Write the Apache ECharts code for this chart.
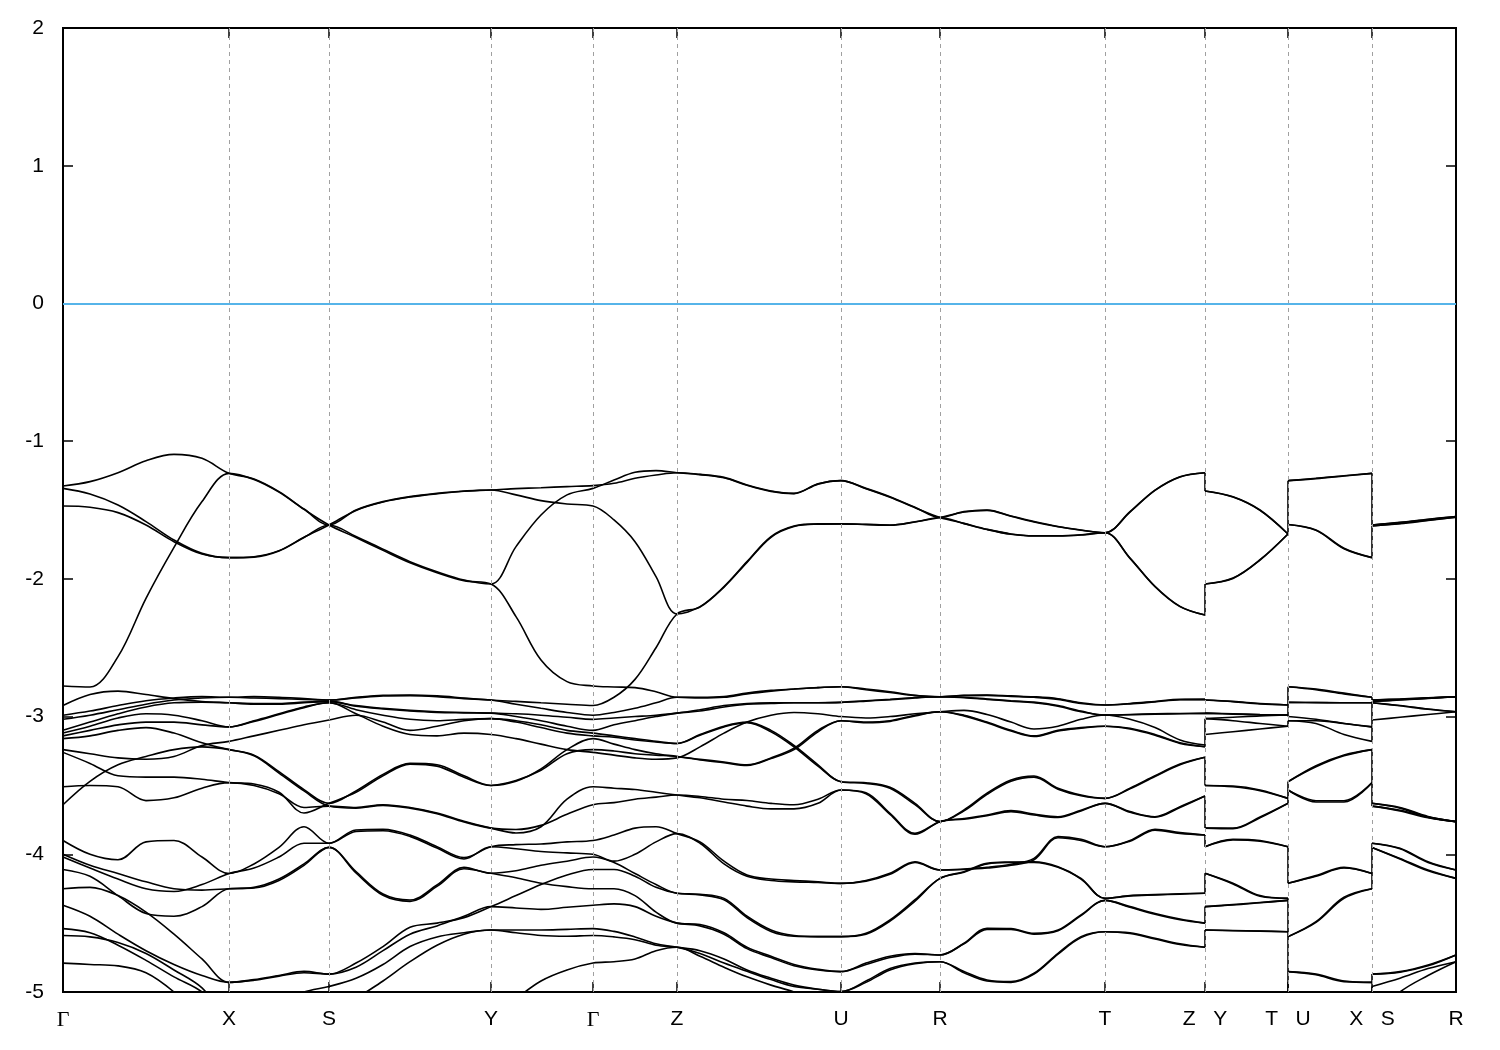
<!DOCTYPE html>
<html><head><meta charset="utf-8">
<script src="https://cdn.jsdelivr.net/npm/echarts@6/dist/echarts.min.js"></script>
<style>html,body{margin:0;padding:0;background:#fff}#c{width:1500px;height:1050px}</style>
</head><body><div id="c"></div>
<script>
// high-symmetry k-path positions and labels
const kTicks = [0, 166, 266, 428, 530, 614, 778, 877, 1042, 1142, 1225, 1309, 1393];
const kLabels = ['Γ', 'X', 'S', 'Y', 'Γ', 'Z', 'U', 'R', 'T', 'Z   Y', 'T   U', 'X   S', 'R'];
const pathBreaks = [1142, 1225, 1309];
const fermiLevel = 0;

// Γ -> X
const segGX_k = [0, 27, 55, 83, 111, 139, 166];
const segGX_E = [
[-1.326,-1.294,-1.229,-1.142,-1.096,-1.125,-1.234],
[-1.343,-1.384,-1.464,-1.584,-1.718,-1.815,-1.846],
[-1.471,-1.480,-1.519,-1.609,-1.730,-1.820,-1.846],
[-2.778,-2.785,-2.565,-2.141,-1.771,-1.439,-1.234],
[-2.92,-2.84,-2.815,-2.84,-2.87,-2.89,-2.90],
[-2.99,-2.96,-2.92,-2.885,-2.865,-2.855,-2.86],
[-3.02,-2.99,-2.95,-2.91,-2.88,-2.865,-2.86],
[-3.10,-3.04,-2.98,-2.93,-2.90,-2.895,-2.90],
[-3.12,-3.07,-3.01,-2.98,-2.99,-3.03,-3.075],
[-3.14,-3.10,-3.06,-3.04,-3.04,-3.06,-3.075],
[-3.16,-3.14,-3.10,-3.08,-3.12,-3.19,-3.24],
[-3.24,-3.27,-3.30,-3.31,-3.29,-3.21,-3.18],
[-3.26,-3.34,-3.43,-3.44,-3.44,-3.455,-3.48],
[-3.51,-3.50,-3.51,-3.61,-3.59,-3.52,-3.48],
[-3.64,-3.47,-3.35,-3.29,-3.24,-3.22,-3.24],
[-3.90,-4.00,-4.04,-3.91,-3.90,-4.02,-4.14],
[-4.00,-4.08,-4.14,-4.20,-4.25,-4.26,-4.25],
[-4.02,-4.10,-4.18,-4.25,-4.27,-4.22,-4.14],
[-4.11,-4.16,-4.30,-4.43,-4.45,-4.38,-4.25],
[-4.25,-4.24,-4.30,-4.42,-4.58,-4.76,-4.93],
[-4.37,-4.45,-4.58,-4.70,-4.80,-4.88,-4.93],
[-4.54,-4.57,-4.66,-4.77,-4.89,-5.00,-5.20],
[-4.59,-4.60,-4.64,-4.72,-4.84,-4.97,-5.20],
[-4.79,-4.80,-4.81,-4.86,-5.00,-5.20,-5.40],
[-5.20,-5.22,-5.25,-5.30,-5.35,-5.38,-5.40],
[-5.40,-5.42,-5.44,-5.46,-5.48,-5.50,-5.50]
];
// X -> S
const segXS_k = [166, 191, 216, 241, 266];
const segXS_E = [
[-1.234,-1.275,-1.367,-1.493,-1.609],
[-1.234,-1.278,-1.370,-1.496,-1.609],
[-1.846,-1.839,-1.795,-1.698,-1.609],
[-1.846,-1.842,-1.798,-1.700,-1.609],
[-2.86,-2.855,-2.86,-2.87,-2.88],
[-2.86,-2.865,-2.87,-2.875,-2.88],
[-2.90,-2.91,-2.91,-2.90,-2.89],
[-2.90,-2.905,-2.905,-2.895,-2.89],
[-3.075,-3.03,-2.98,-2.93,-2.90],
[-3.075,-3.035,-2.985,-2.935,-2.90],
[-3.18,-3.14,-3.10,-3.06,-3.025],
[-3.24,-3.28,-3.40,-3.53,-3.63],
[-3.24,-3.285,-3.41,-3.54,-3.65],
[-3.48,-3.49,-3.55,-3.70,-3.63],
[-3.48,-3.50,-3.56,-3.66,-3.65],
[-4.14,-4.07,-3.95,-3.80,-3.92],
[-4.14,-4.10,-4.02,-3.92,-3.92],
[-4.25,-4.24,-4.18,-4.07,-3.95],
[-4.25,-4.245,-4.19,-4.08,-3.95],
[-4.93,-4.91,-4.88,-4.85,-4.87],
[-4.93,-4.915,-4.885,-4.86,-4.87],
[-5.20,-5.15,-5.08,-5.00,-4.96],
[-5.20,-5.22,-5.22,-5.21,-5.20],
[-5.40,-5.38,-5.35,-5.32,-5.30],
[-5.40,-5.40,-5.40,-5.40,-5.40],
[-5.50,-5.50,-5.50,-5.50,-5.50]
];
// S -> Y
const segSY_k = [266, 293, 320, 347, 374, 401, 428];
const segSY_E = [
[-1.609,-1.500,-1.439,-1.403,-1.379,-1.362,-1.355],
[-1.609,-1.503,-1.442,-1.406,-1.382,-1.364,-1.355],
[-1.609,-1.693,-1.785,-1.875,-1.948,-2.008,-2.037],
[-1.609,-1.700,-1.793,-1.883,-1.955,-2.013,-2.037],
[-2.88,-2.86,-2.845,-2.843,-2.85,-2.865,-2.88],
[-2.88,-2.865,-2.85,-2.848,-2.855,-2.87,-2.88],
[-2.89,-2.92,-2.94,-2.955,-2.965,-2.97,-2.975],
[-2.89,-2.925,-2.945,-2.96,-2.97,-2.973,-2.975],
[-2.90,-2.95,-2.99,-3.02,-3.03,-3.02,-3.015],
[-2.90,-2.98,-3.07,-3.13,-3.14,-3.12,-3.13],
[-3.025,-2.99,-3.04,-3.10,-3.07,-3.03,-3.015],
[-3.63,-3.54,-3.42,-3.34,-3.35,-3.43,-3.50],
[-3.63,-3.55,-3.43,-3.345,-3.36,-3.44,-3.50],
[-3.65,-3.66,-3.64,-3.66,-3.70,-3.76,-3.81],
[-3.65,-3.665,-3.645,-3.665,-3.705,-3.765,-3.81],
[-3.92,-3.824,-3.819,-3.86,-3.945,-4.024,-3.945],
[-3.92,-3.834,-3.829,-3.87,-3.955,-4.034,-3.945],
[-3.95,-4.126,-4.288,-4.332,-4.223,-4.095,-4.138],
[-3.95,-4.136,-4.298,-4.342,-4.233,-4.105,-4.138],
[-4.87,-4.79,-4.67,-4.53,-4.50,-4.46,-4.38],
[-4.87,-4.82,-4.70,-4.58,-4.52,-4.45,-4.38],
[-4.96,-4.90,-4.80,-4.67,-4.60,-4.57,-4.55],
[-5.20,-5.05,-4.92,-4.78,-4.66,-4.58,-4.55],
[-5.30,-5.28,-5.26,-5.24,-5.22,-5.21,-5.20],
[-5.40,-5.38,-5.36,-5.34,-5.32,-5.31,-5.30],
[-5.50,-5.48,-5.46,-5.44,-5.42,-5.41,-5.40]
];
// Y -> Γ
const segYG_k = [428, 453, 478, 504, 530];
const segYG_E = [
[-1.355,-1.345,-1.338,-1.330,-1.323],
[-1.355,-1.390,-1.432,-1.456,-1.471],
[-2.037,-1.766,-1.536,-1.390,-1.343],
[-2.037,-2.274,-2.589,-2.746,-2.778],
[-2.88,-2.89,-2.90,-2.91,-2.92],
[-2.88,-2.91,-2.94,-2.97,-2.99],
[-2.975,-2.98,-2.99,-3.005,-3.02],
[-2.975,-3.00,-3.03,-3.07,-3.10],
[-3.015,-3.03,-3.06,-3.10,-3.12],
[-3.015,-3.04,-3.08,-3.12,-3.14],
[-3.13,-3.16,-3.20,-3.24,-3.26],
[-3.50,-3.465,-3.39,-3.27,-3.24],
[-3.50,-3.47,-3.38,-3.24,-3.16],
[-3.81,-3.845,-3.80,-3.60,-3.51],
[-3.81,-3.82,-3.79,-3.71,-3.64],
[-3.945,-3.93,-3.925,-3.91,-3.90],
[-3.945,-3.96,-3.98,-3.99,-4.00],
[-4.138,-4.12,-4.08,-4.05,-4.02],
[-4.138,-4.17,-4.21,-4.235,-4.25],
[-4.38,-4.30,-4.22,-4.15,-4.11],
[-4.38,-4.39,-4.40,-4.385,-4.37],
[-4.55,-4.55,-4.55,-4.545,-4.54],
[-4.55,-4.57,-4.59,-4.595,-4.59],
[-5.20,-5.05,-4.92,-4.84,-4.79],
[-5.30,-5.27,-5.24,-5.22,-5.20],
[-5.40,-5.40,-5.40,-5.40,-5.40]
];
// Γ -> Z
const segGZ_k = [530, 551, 572, 593, 614];
const segGZ_E = [
[-1.343,-1.282,-1.226,-1.214,-1.229],
[-1.323,-1.306,-1.270,-1.246,-1.229],
[-1.471,-1.572,-1.730,-1.984,-2.255],
[-2.92,-2.86,-2.73,-2.50,-2.255],
[-2.778,-2.785,-2.79,-2.82,-2.86],
[-2.99,-2.97,-2.94,-2.90,-2.86],
[-3.02,-3.01,-3.00,-2.99,-2.975],
[-3.10,-3.06,-3.03,-3.00,-2.975],
[-3.12,-3.14,-3.16,-3.18,-3.195],
[-3.14,-3.15,-3.17,-3.185,-3.195],
[-3.16,-3.20,-3.24,-3.27,-3.29],
[-3.24,-3.25,-3.27,-3.28,-3.29],
[-3.26,-3.28,-3.30,-3.31,-3.30],
[-3.51,-3.52,-3.53,-3.55,-3.57],
[-3.64,-3.625,-3.60,-3.585,-3.57],
[-3.90,-3.86,-3.81,-3.80,-3.85],
[-4.00,-4.05,-4.00,-3.91,-3.85],
[-4.02,-4.06,-4.14,-4.22,-4.283],
[-4.11,-4.11,-4.16,-4.24,-4.283],
[-4.25,-4.25,-4.30,-4.42,-4.50],
[-4.37,-4.36,-4.38,-4.45,-4.50],
[-4.54,-4.56,-4.60,-4.65,-4.675],
[-4.59,-4.60,-4.62,-4.66,-4.675],
[-4.79,-4.78,-4.76,-4.70,-4.675],
[-5.20,-5.20,-5.20,-5.20,-5.20],
[-5.40,-5.40,-5.40,-5.40,-5.40]
];
// Z -> U
const segZU_k = [614, 637, 661, 684, 708, 731, 755, 778];
const segZU_E = [
[-1.229,-1.241,-1.263,-1.318,-1.362,-1.379,-1.310,-1.287],
[-1.229,-1.243,-1.266,-1.321,-1.365,-1.381,-1.312,-1.287],
[-2.255,-2.202,-2.056,-1.875,-1.693,-1.616,-1.601,-1.601],
[-2.255,-2.205,-2.060,-1.880,-1.698,-1.620,-1.603,-1.601],
[-2.86,-2.86,-2.855,-2.83,-2.81,-2.80,-2.79,-2.783],
[-2.86,-2.865,-2.86,-2.835,-2.815,-2.80,-2.79,-2.783],
[-2.975,-2.95,-2.92,-2.905,-2.90,-2.90,-2.90,-2.897],
[-2.975,-2.96,-2.93,-2.91,-2.905,-2.90,-2.90,-2.897],
[-3.30,-3.22,-3.12,-3.04,-2.99,-2.97,-2.98,-3.00],
[-3.29,-3.31,-3.33,-3.35,-3.30,-3.23,-3.10,-3.03],
[-3.29,-3.315,-3.335,-3.355,-3.305,-3.24,-3.11,-3.03],
[-3.195,-3.13,-3.07,-3.04,-3.10,-3.21,-3.35,-3.473],
[-3.195,-3.135,-3.075,-3.045,-3.11,-3.22,-3.36,-3.473],
[-3.57,-3.59,-3.62,-3.65,-3.67,-3.67,-3.63,-3.533],
[-3.57,-3.58,-3.60,-3.61,-3.63,-3.64,-3.60,-3.533],
[-3.85,-3.91,-4.05,-4.15,-4.18,-4.19,-4.20,-4.211],
[-3.85,-3.92,-4.07,-4.16,-4.19,-4.20,-4.205,-4.211],
[-4.283,-4.29,-4.32,-4.45,-4.55,-4.59,-4.598,-4.598],
[-4.283,-4.295,-4.33,-4.46,-4.56,-4.595,-4.598,-4.598],
[-4.50,-4.51,-4.57,-4.675,-4.74,-4.80,-4.835,-4.852],
[-4.50,-4.52,-4.58,-4.685,-4.75,-4.81,-4.84,-4.852],
[-4.675,-4.72,-4.79,-4.85,-4.91,-4.96,-4.98,-4.997],
[-4.675,-4.70,-4.76,-4.84,-4.90,-4.95,-4.98,-4.997],
[-4.675,-4.74,-4.82,-4.89,-4.95,-5.00,-5.08,-5.20],
[-5.20,-5.22,-5.24,-5.26,-5.28,-5.29,-5.30,-5.30],
[-5.40,-5.40,-5.40,-5.40,-5.40,-5.40,-5.40,-5.40]
];
// U -> R
const segUR_k = [778, 803, 827, 852, 877];
const segUR_E = [
[-1.287,-1.343,-1.404,-1.480,-1.554],
[-1.287,-1.345,-1.407,-1.483,-1.554],
[-1.601,-1.604,-1.609,-1.585,-1.554],
[-1.601,-1.606,-1.611,-1.587,-1.554],
[-2.783,-2.80,-2.82,-2.845,-2.856],
[-2.783,-2.805,-2.825,-2.848,-2.856],
[-2.897,-2.885,-2.875,-2.862,-2.856],
[-2.897,-2.888,-2.878,-2.864,-2.856],
[-3.00,-3.01,-3.00,-2.98,-2.965],
[-3.03,-3.04,-3.03,-2.99,-2.965],
[-3.03,-3.045,-3.035,-2.995,-2.965],
[-3.473,-3.48,-3.514,-3.63,-3.763],
[-3.473,-3.485,-3.52,-3.64,-3.763],
[-3.533,-3.553,-3.703,-3.848,-3.763],
[-3.533,-3.56,-3.71,-3.855,-3.763],
[-4.211,-4.19,-4.138,-4.054,-4.114],
[-4.211,-4.195,-4.145,-4.06,-4.114],
[-4.598,-4.574,-4.477,-4.33,-4.175],
[-4.598,-4.58,-4.485,-4.34,-4.175],
[-4.852,-4.79,-4.74,-4.72,-4.731],
[-4.852,-4.80,-4.75,-4.725,-4.731],
[-4.997,-4.92,-4.83,-4.79,-4.78],
[-4.997,-4.93,-4.84,-4.795,-4.78],
[-5.20,-5.20,-5.20,-5.20,-5.20],
[-5.30,-5.30,-5.30,-5.30,-5.30],
[-5.40,-5.40,-5.40,-5.40,-5.40]
];
// R -> T
const segRT_k = [877, 901, 924, 948, 971, 995, 1018, 1042];
const segRT_E = [
[-1.554,-1.512,-1.500,-1.543,-1.584,-1.620,-1.645,-1.665],
[-1.554,-1.514,-1.503,-1.546,-1.587,-1.622,-1.647,-1.665],
[-1.554,-1.597,-1.640,-1.674,-1.687,-1.687,-1.680,-1.665],
[-1.554,-1.599,-1.642,-1.676,-1.689,-1.689,-1.682,-1.665],
[-2.856,-2.845,-2.843,-2.85,-2.856,-2.87,-2.90,-2.916],
[-2.856,-2.848,-2.846,-2.853,-2.86,-2.875,-2.905,-2.916],
[-2.856,-2.86,-2.872,-2.885,-2.895,-2.92,-2.96,-2.989],
[-2.856,-2.863,-2.875,-2.888,-2.90,-2.925,-2.965,-2.989],
[-2.965,-2.955,-2.985,-3.04,-3.09,-3.07,-3.02,-2.989],
[-2.965,-2.99,-3.04,-3.10,-3.14,-3.10,-3.08,-3.07],
[-2.965,-2.995,-3.045,-3.105,-3.145,-3.105,-3.085,-3.07],
[-3.763,-3.678,-3.557,-3.461,-3.432,-3.521,-3.57,-3.594],
[-3.763,-3.685,-3.565,-3.47,-3.44,-3.527,-3.575,-3.594],
[-3.763,-3.74,-3.715,-3.683,-3.708,-3.727,-3.68,-3.63],
[-3.763,-3.745,-3.72,-3.69,-3.715,-3.733,-3.685,-3.63],
[-4.114,-4.107,-4.095,-4.073,-4.03,-3.872,-3.891,-3.945],
[-4.114,-4.11,-4.10,-4.08,-4.04,-3.88,-3.90,-3.945],
[-4.175,-4.126,-4.066,-4.056,-4.054,-4.09,-4.175,-4.32],
[-4.175,-4.13,-4.07,-4.06,-4.06,-4.095,-4.18,-4.32],
[-4.731,-4.646,-4.537,-4.54,-4.574,-4.55,-4.44,-4.335],
[-4.731,-4.65,-4.545,-4.545,-4.58,-4.555,-4.445,-4.335],
[-4.78,-4.852,-4.913,-4.925,-4.864,-4.719,-4.598,-4.562],
[-4.78,-4.86,-4.92,-4.93,-4.87,-4.725,-4.605,-4.562],
[-5.20,-5.20,-5.20,-5.20,-5.20,-5.20,-5.20,-5.20],
[-5.30,-5.30,-5.30,-5.30,-5.30,-5.30,-5.30,-5.30],
[-5.40,-5.40,-5.40,-5.40,-5.40,-5.40,-5.40,-5.40]
];
// T -> Z
const segTZ_k = [1042, 1067, 1092, 1117, 1142];
const segTZ_E = [
[-1.665,-1.512,-1.355,-1.258,-1.229],
[-1.665,-1.515,-1.358,-1.260,-1.229],
[-1.665,-1.851,-2.057,-2.202,-2.263],
[-1.665,-1.848,-2.054,-2.200,-2.263],
[-2.916,-2.905,-2.89,-2.875,-2.875],
[-2.916,-2.908,-2.893,-2.878,-2.875],
[-2.989,-2.985,-2.98,-2.978,-2.977],
[-2.989,-2.987,-2.982,-2.979,-2.977],
[-2.989,-3.02,-3.08,-3.17,-3.207],
[-3.07,-3.085,-3.13,-3.19,-3.219],
[-3.07,-3.09,-3.135,-3.195,-3.219],
[-3.594,-3.52,-3.43,-3.345,-3.296],
[-3.594,-3.525,-3.435,-3.35,-3.296],
[-3.63,-3.69,-3.727,-3.654,-3.577],
[-3.63,-3.695,-3.73,-3.66,-3.577],
[-3.945,-3.90,-3.819,-3.843,-3.86],
[-3.945,-3.905,-3.825,-3.848,-3.86],
[-4.32,-4.30,-4.293,-4.287,-4.283],
[-4.32,-4.302,-4.295,-4.289,-4.283],
[-4.335,-4.38,-4.43,-4.47,-4.50],
[-4.335,-4.385,-4.435,-4.475,-4.50],
[-4.562,-4.57,-4.61,-4.65,-4.675],
[-4.562,-4.575,-4.615,-4.655,-4.675],
[-5.20,-5.20,-5.20,-5.20,-5.20],
[-5.30,-5.30,-5.30,-5.30,-5.30],
[-5.40,-5.40,-5.40,-5.40,-5.40]
];
// Y -> T
const segYT_k = [1142, 1170, 1197, 1225];
const segYT_E = [
[-1.362,-1.404,-1.500,-1.674],
[-1.362,-1.406,-1.503,-1.674],
[-2.037,-1.997,-1.864,-1.674],
[-2.037,-1.994,-1.861,-1.674],
[-2.88,-2.89,-2.905,-2.916],
[-2.88,-2.892,-2.908,-2.916],
[-2.975,-2.98,-2.985,-2.989],
[-2.975,-2.982,-2.987,-2.989],
[-3.015,-3.005,-2.995,-2.989],
[-3.015,-3.03,-3.05,-3.07],
[-3.13,-3.11,-3.09,-3.07],
[-3.50,-3.504,-3.533,-3.594],
[-3.50,-3.51,-3.538,-3.594],
[-3.81,-3.81,-3.73,-3.63],
[-3.81,-3.815,-3.735,-3.63],
[-3.945,-3.891,-3.90,-3.945],
[-3.945,-3.895,-3.905,-3.945],
[-4.138,-4.21,-4.30,-4.32],
[-4.138,-4.215,-4.305,-4.32],
[-4.38,-4.365,-4.35,-4.335],
[-4.38,-4.368,-4.352,-4.335],
[-4.55,-4.553,-4.557,-4.562],
[-4.55,-4.555,-4.558,-4.562],
[-5.20,-5.20,-5.20,-5.20],
[-5.30,-5.30,-5.30,-5.30],
[-5.40,-5.40,-5.40,-5.40]
];
// U -> X
const segUX_k = [1225, 1253, 1281, 1309];
const segUX_E = [
[-1.287,-1.270,-1.251,-1.234],
[-1.287,-1.272,-1.253,-1.234],
[-1.605,-1.645,-1.778,-1.846],
[-1.605,-1.648,-1.781,-1.846],
[-2.783,-2.80,-2.83,-2.86],
[-2.783,-2.805,-2.835,-2.86],
[-2.897,-2.898,-2.90,-2.90],
[-2.897,-2.899,-2.90,-2.90],
[-3.00,-3.02,-3.05,-3.075],
[-3.03,-3.03,-3.05,-3.075],
[-3.03,-3.05,-3.13,-3.18],
[-3.473,-3.357,-3.279,-3.24],
[-3.473,-3.365,-3.285,-3.24],
[-3.533,-3.611,-3.611,-3.48],
[-3.533,-3.62,-3.62,-3.48],
[-4.211,-4.155,-4.095,-4.14],
[-4.211,-4.16,-4.10,-4.14],
[-4.598,-4.489,-4.312,-4.25],
[-4.598,-4.495,-4.32,-4.25],
[-4.852,-4.87,-4.92,-4.93],
[-4.852,-4.875,-4.925,-4.93],
[-4.997,-5.05,-5.12,-5.20],
[-4.997,-5.06,-5.13,-5.20],
[-5.20,-5.30,-5.35,-5.40],
[-5.30,-5.35,-5.38,-5.40],
[-5.40,-5.45,-5.48,-5.50]
];
// S -> R
const segSR_k = [1309, 1337, 1365, 1393];
const segSR_E = [
[-1.609,-1.590,-1.567,-1.547],
[-1.609,-1.592,-1.569,-1.547],
[-1.615,-1.597,-1.574,-1.553],
[-1.615,-1.599,-1.576,-1.553],
[-2.88,-2.872,-2.864,-2.856],
[-2.88,-2.874,-2.866,-2.856],
[-2.89,-2.878,-2.866,-2.856],
[-2.89,-2.88,-2.868,-2.856],
[-2.90,-2.92,-2.945,-2.965],
[-2.90,-2.922,-2.947,-2.965],
[-3.025,-3.005,-2.985,-2.965],
[-3.63,-3.66,-3.725,-3.763],
[-3.63,-3.665,-3.73,-3.763],
[-3.65,-3.68,-3.73,-3.763],
[-3.65,-3.685,-3.735,-3.763],
[-3.92,-3.957,-4.054,-4.114],
[-3.92,-3.96,-4.06,-4.114],
[-3.95,-4.03,-4.114,-4.175],
[-3.95,-4.035,-4.12,-4.175],
[-4.87,-4.852,-4.804,-4.731],
[-4.87,-4.856,-4.81,-4.731],
[-4.96,-4.90,-4.83,-4.78],
[-5.20,-5.00,-4.88,-4.78],
[-5.30,-5.25,-5.22,-5.20],
[-5.40,-5.35,-5.30,-5.30],
[-5.50,-5.45,-5.42,-5.40]
];

const segments = [
  [segGX_k, segGX_E], [segXS_k, segXS_E], [segSY_k, segSY_E], [segYG_k, segYG_E],
  [segGZ_k, segGZ_E], [segZU_k, segZU_E], [segUR_k, segUR_E], [segRT_k, segRT_E],
  [segTZ_k, segTZ_E], [segYT_k, segYT_E], [segUX_k, segUX_E], [segSR_k, segSR_E]
];

// chain segment curves into bands by energy ordering at each junction
const nBands = segGX_E.length;
const bands = Array.from({length: nBands}, () => []);
const jumps = [];
segments.forEach(([ks, curves], si) => {
  const sortedCurves = curves.slice().sort((a, b) => b[0] - a[0]);
  const idx = bands.map((b, i) => i);
  if (si > 0) idx.sort((i, j) => bands[j][bands[j].length - 1][1] - bands[i][bands[i].length - 1][1]);
  const isBreak = si > 0 && pathBreaks.includes(ks[0]);
  sortedCurves.forEach((curve, r) => {
    const band = bands[idx[r]];
    curve.forEach((e, p) => {
      if (p === 0 && si > 0) {
        if (isBreak) {
          const last = band[band.length - 1];
          jumps.push([ks[0], last[1]], [ks[0], e], [ks[0], null]);
          band.push([ks[0], null]);
          band.push([ks[0], e]);
        }
        return;
      }
      band.push([ks[p], e]);
    });
  });
});

const chart = echarts.init(document.getElementById('c'), null, {renderer: 'canvas'});
const axisLineStyle = {color: '#000', width: 2};
const series = [];
series.push({
  type: 'line', data: [], silent: true, z: 1,
  markLine: {
    symbol: 'none', silent: true, animation: false, label: {show: false},
    data: kTicks.slice(1, -1).map(k => ({xAxis: k, lineStyle: {type: [4, 4], color: '#a0a0a0', width: 1}}))
      .concat([{yAxis: fermiLevel, lineStyle: {type: 'solid', color: '#56b4e9', width: 2}}])
  }
});
bands.forEach(b => series.push({
  type: 'line', data: b, smooth: 0.35, symbol: 'none', clip: true, silent: true, z: 3,
  connectNulls: false, lineStyle: {color: '#000', width: 1.6}
}));
series.push({
  type: 'line', data: jumps, smooth: false, symbol: 'none', clip: true, silent: true, z: 3,
  connectNulls: false, lineStyle: {color: '#000', width: 1.6}
});

const labelFor = v => {
  const i = kTicks.indexOf(v);
  if (i < 0) return '';
  const s = kLabels[i];
  return s === 'Γ' ? '{g|Γ}' : s;
};

chart.setOption({
  animation: false,
  backgroundColor: '#fff',
  grid: {left: 63, right: 44, top: 28, bottom: 58, show: true, borderColor: '#000', borderWidth: 2, backgroundColor: 'transparent'},
  xAxis: [
    {type: 'value', min: 0, max: 1393, position: 'bottom',
     axisLine: {show: true, onZero: false, lineStyle: axisLineStyle},
     axisTick: {show: true, inside: true, length: 10, customValues: kTicks, lineStyle: {color: '#000', width: 1.5}},
     axisLabel: {show: true, customValues: kTicks, formatter: labelFor, fontSize: 21, color: '#000', margin: 17,
                 fontFamily: 'Liberation Sans, Arial, sans-serif',
                 rich: {g: {fontFamily: 'Liberation Serif, Times New Roman, serif', fontSize: 22, color: '#000'}}},
     splitLine: {show: false}},
    {type: 'value', min: 0, max: 1393, position: 'top',
     axisLine: {show: true, onZero: false, lineStyle: axisLineStyle},
     axisTick: {show: true, inside: true, length: 10, customValues: kTicks, lineStyle: {color: '#000', width: 1.5}},
     axisLabel: {show: false}, splitLine: {show: false}}
  ],
  yAxis: [
    {type: 'value', min: -5, max: 2, interval: 1, position: 'left',
     axisLine: {show: true, onZero: false, lineStyle: axisLineStyle},
     axisTick: {show: true, inside: true, length: 10, lineStyle: {color: '#000', width: 1.5}},
     axisLabel: {fontSize: 21, color: '#000', margin: 19, fontFamily: 'Liberation Sans, Arial, sans-serif'},
     splitLine: {show: false}},
    {type: 'value', min: -5, max: 2, interval: 1, position: 'right',
     axisLine: {show: true, onZero: false, lineStyle: axisLineStyle},
     axisTick: {show: true, inside: true, length: 10, lineStyle: {color: '#000', width: 1.5}},
     axisLabel: {show: false}, splitLine: {show: false}}
  ],
  series: series
});
</script>
</body></html>
